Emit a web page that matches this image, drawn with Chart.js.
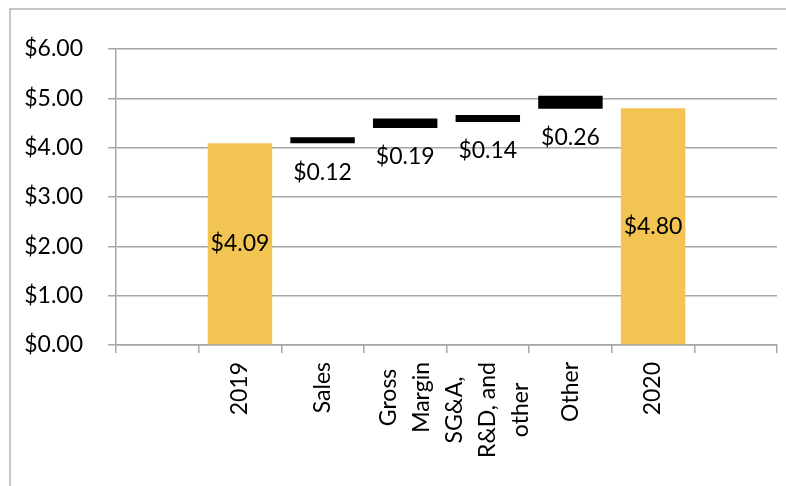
<!DOCTYPE html>
<html>
<head>
<meta charset="utf-8">
<script src="https://cdn.jsdelivr.net/npm/chart.js@4/dist/chart.umd.min.js"></script>
<style>
  html, body { margin: 0; padding: 0; background: #fff; }
  canvas { display: block; }
</style>
</head>
<body>
<canvas id="waterfall" width="786" height="486"></canvas>
<script>
// categories (first and last slots are empty in the original)
var categories = ['', '2019', 'Sales', ['Gross', 'Margin'], ['SG&A,', 'R&D, and', 'other'], 'Other', '2020', ''];
// bar bottoms and tops
var barStarts = [null, 0, 4.09, 4.40, 4.52, 4.79, 0, null];
var barEnds = [null, 4.09, 4.21, 4.59, 4.66, 5.05, 4.80, null];
// values printed on the chart
var labelValues = [null, 4.09, 0.12, 0.19, 0.14, 0.26, 4.80, null];
var isTotal = [false, true, false, false, false, false, true, false];
var yTicks = [0, 1, 2, 3, 4, 5, 6];

var FONT = 'Lato';
var FONT_SIZE = 23;
var GRID = '#a6a6a6';

var floating = barStarts.map(function (s, i) {
	return s === null ? null : [s, barEnds[i]];
});

var outerBorder = {
	id: 'outerBorder',
	beforeDraw: function (chart) {
		var ctx = chart.ctx;
		ctx.save();
		ctx.strokeStyle = '#b4b4b4';
		ctx.lineWidth = 1.5;
		ctx.strokeRect(10, 9, 800, 500);
		ctx.restore();
	}
};

// vertical category labels, each line centred, block centred on the category
var xLabels = {
	id: 'xLabels',
	afterDraw: function (chart) {
		var ctx = chart.ctx;
		var scale = chart.scales.x;
		var top = chart.chartArea.bottom + 17;
		var lineGap = 33;
		ctx.save();
		ctx.font = FONT_SIZE + 'px ' + FONT;
		ctx.fillStyle = '#000';
		ctx.textAlign = 'center';
		ctx.textBaseline = 'middle';
		categories.forEach(function (cat, i) {
			var lines = Array.isArray(cat) ? cat : [cat];
			if (!lines[0]) return;
			var longest = Math.max.apply(null, lines.map(function (l) { return ctx.measureText(l).width; }));
			var cx = scale.getPixelForTick(i);
			var cy = top + longest / 2;
			lines.forEach(function (line, j) {
				ctx.save();
				ctx.translate(cx + (j - (lines.length - 1) / 2) * lineGap, cy);
				ctx.rotate(-Math.PI / 2);
				ctx.fillText(line, 0, 0);
				ctx.restore();
			});
		});
		ctx.restore();
	}
};

var valueLabels = {
	id: 'valueLabels',
	afterDatasetsDraw: function (chart) {
		var ctx = chart.ctx;
		var meta = chart.getDatasetMeta(0);
		ctx.save();
		ctx.font = FONT_SIZE + 'px ' + FONT;
		ctx.fillStyle = '#000';
		ctx.textAlign = 'center';
		ctx.textBaseline = 'middle';
		meta.data.forEach(function (bar, i) {
			if (labelValues[i] === null) return;
			var text = '$' + labelValues[i].toFixed(2);
			var y = isTotal[i] ? (bar.y + bar.base) / 2 : bar.base + 29;
			ctx.fillText(text, bar.x, y);
		});
		ctx.restore();
	}
};

var config = {
	type: 'bar',
	data: {
		labels: categories,
		datasets: [{
			data: floating,
			backgroundColor: isTotal.map(function (t) { return t ? '#f2c553' : '#000000'; }),
			borderWidth: 0,
			barPercentage: 0.78,
			categoryPercentage: 1
		}]
	},
	options: {
		responsive: false,
		animation: false,
		layout: { padding: { top: 49, left: 10, right: 9, bottom: 0 } },
		plugins: {
			legend: { display: false },
			tooltip: { enabled: false }
		},
		scales: {
			x: {
				grid: { drawOnChartArea: false, drawTicks: true, tickLength: 8, color: GRID, lineWidth: 1.5, offset: true },
				border: { color: GRID, width: 1.5 },
				ticks: { display: false, autoSkip: false },
				afterFit: function (scale) { scale.height = 141; }
			},
			y: {
				min: 0,
				max: 6,
				afterBuildTicks: function (scale) {
					scale.ticks = yTicks.map(function (v) { return { value: v }; });
				},
				grid: { color: GRID, lineWidth: 1.5, tickLength: 8 },
				border: { color: GRID, width: 1.5 },
				ticks: {
					padding: 25,
					color: '#000',
					font: { family: FONT, size: FONT_SIZE },
					callback: function (v) { return '$' + Number(v).toFixed(2); }
				},
				afterFit: function (scale) { scale.width = 106; }
			}
		}
	},
	plugins: [outerBorder, valueLabels, xLabels]
};

var ctx = document.getElementById('waterfall').getContext('2d');
window.myWaterfall = new Chart(ctx, config);
</script>
</body>
</html>
